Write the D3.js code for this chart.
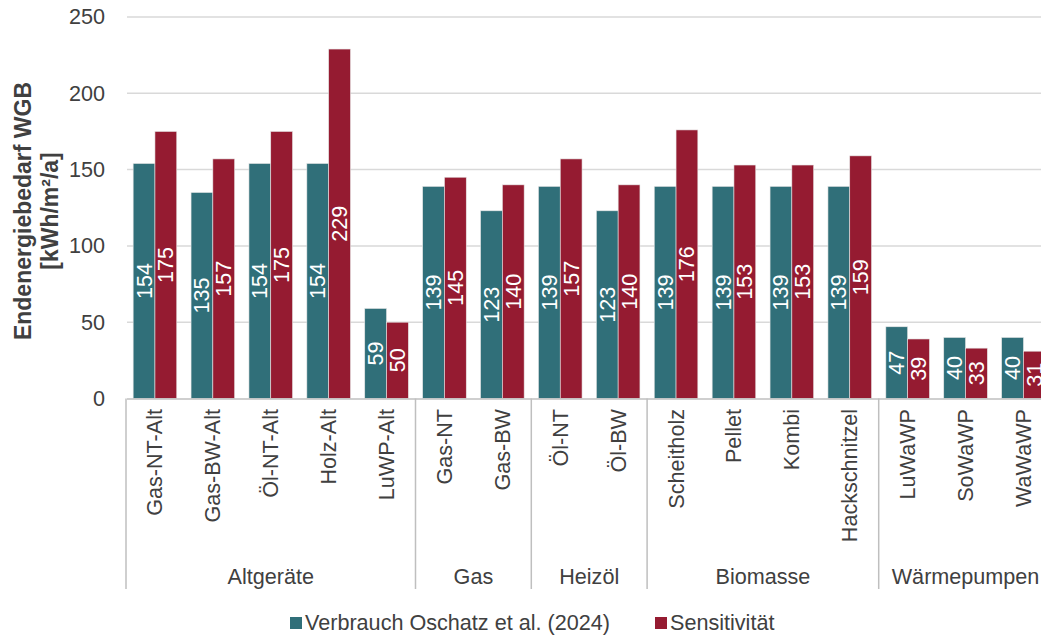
<!DOCTYPE html>
<html>
<head>
<meta charset="utf-8">
<script src="https://cdn.jsdelivr.net/npm/d3@7"></script>
<style>
  body { margin: 0; background: #fff; }
  svg text { font-family: "Liberation Sans", Arial, sans-serif; }
</style>
</head>
<body>
<div id="container"></div>
<script>
// categories, in the order they appear on the x axis
var categories = ["Gas-NT-Alt", "Gas-BW-Alt", "Öl-NT-Alt", "Holz-Alt", "LuWP-Alt",
  "Gas-NT", "Gas-BW", "Öl-NT", "Öl-BW",
  "Scheitholz", "Pellet", "Kombi", "Hackschnitzel",
  "LuWaWP", "SoWaWP", "WaWaWP"];

// the outer level of the category axis
var groupNames = ["Altgeräte", "Gas", "Heizöl", "Biomasse", "Wärmepumpen"];
var groupSizes = [5, 2, 2, 4, 3];

var seriesNames = ["Verbrauch Oschatz et al. (2024)", "Sensitivität"];
var verbrauch = [154, 135, 154, 154, 59, 139, 123, 139, 123, 139, 139, 139, 139, 47, 40, 40];
var sensitivitaet = [175, 157, 175, 229, 50, 145, 140, 157, 140, 176, 153, 153, 159, 39, 33, 31];

var yTicks = [0, 50, 100, 150, 200, 250];

var colors = ["#306f79", "#951b31"];
var textColor = "#404040";
var fontSize = 21.6;

var width = 1041, height = 637;

var svg = d3.select("#container").append("svg")
  .attr("width", width)
  .attr("height", height);

var x = d3.scaleBand()
  .domain(categories)
  .range([126, 126 + 16 * 57.9])
  .paddingInner(0.247)
  .paddingOuter(0.1235);

var xSeries = d3.scaleBand()
  .domain([0, 1])
  .range([0, x.bandwidth()]);

var y = d3.scaleLinear().domain([0, 250]).range([398.5, 17]);

// gridlines
svg.append("g")
  .selectAll("line")
  .data(yTicks.slice(1))
  .enter()
  .append("line")
  .attr("x1", 127)
  .attr("x2", width)
  .attr("y1", (d) => y(d))
  .attr("y2", (d) => y(d))
  .attr("stroke", "#d9d9d9")
  .attr("stroke-width", 1.5);

// y axis labels only
var yAxis = d3.axisLeft(y).tickValues(yTicks).tickSize(0).tickPadding(0);
var yAxisG = svg.append("g")
  .attr("transform", "translate(105,0)")
  .call(yAxis);
yAxisG.select(".domain").remove();
yAxisG.selectAll("text")
  .attr("font-size", fontSize)
  .attr("fill", textColor);

// y axis title
var title = svg.append("text")
  .attr("transform", "translate(33,211) rotate(-90)")
  .attr("text-anchor", "middle")
  .attr("font-size", 23)
  .attr("font-weight", "bold")
  .attr("fill", textColor);
title.append("tspan").attr("x", 0).attr("dy", "-0.1em").text("Endenergiebedarf WGB");
title.append("tspan").attr("x", 0).attr("dy", "1.2em").text("[kWh/m²/a]");

// bars
var rows = categories.map(function (c, i) {
  return { cat: c, values: [verbrauch[i], sensitivitaet[i]] };
});

var groupG = svg.append("g")
  .selectAll("g")
  .data(rows)
  .enter()
  .append("g")
  .attr("transform", (d) => "translate(" + x(d.cat) + ",0)");

groupG.selectAll("rect")
  .data((d) => d.values)
  .enter()
  .append("rect")
  .attr("x", (d, i) => xSeries(i))
  .attr("y", (d) => y(d))
  .attr("width", xSeries.bandwidth())
  .attr("height", (d) => y(0) - y(d))
  .attr("fill", (d, i) => colors[i])
  .attr("stroke", "#e6e6e6")
  .attr("stroke-width", 0.6);

groupG.selectAll("text")
  .data((d) => d.values)
  .enter()
  .append("text")
  .attr("transform", function (d, i) {
    var cx = xSeries(i) + xSeries.bandwidth() / 2;
    var cy = (y(d) + y(0)) / 2;
    return "translate(" + cx + "," + cy + ") rotate(-90)";
  })
  .attr("text-anchor", "middle")
  .attr("dominant-baseline", "central")
  .attr("font-size", fontSize)
  .attr("fill", "#fff")
  .text((d) => d3.format(".0f")(d));

// category axis line
svg.append("line")
  .attr("x1", 127)
  .attr("x2", x.range()[1])
  .attr("y1", y(0) + 0.5)
  .attr("y2", y(0) + 0.5)
  .attr("stroke", "#bfbfbf")
  .attr("stroke-width", 1.5);

// inner category labels
svg.append("g")
  .selectAll("text")
  .data(categories)
  .enter()
  .append("text")
  .attr("transform", (d) => "translate(" + (x(d) + x.bandwidth() / 2) + ",409) rotate(-90)")
  .attr("text-anchor", "end")
  .attr("dominant-baseline", "central")
  .attr("font-size", fontSize)
  .attr("fill", textColor)
  .text((d) => d);

// outer groups with separators
var groups = [];
var start = 0;
groupNames.forEach(function (g, i) {
  groups.push({ name: g, first: categories[start], last: categories[start + groupSizes[i] - 1] });
  start += groupSizes[i];
});

var step = x.step();
var sepX = groups.map((g) => x(g.first) - x.paddingInner() * step / 2);
sepX.push(x(groups[groups.length - 1].last) + x.bandwidth() + x.paddingInner() * step / 2);

svg.append("g")
  .selectAll("line")
  .data(sepX)
  .enter()
  .append("line")
  .attr("x1", (d) => d)
  .attr("x2", (d) => d)
  .attr("y1", y(0))
  .attr("y2", 589)
  .attr("stroke", "#bfbfbf")
  .attr("stroke-width", 1.5);

svg.append("g")
  .selectAll("text")
  .data(groups)
  .enter()
  .append("text")
  .attr("x", (d, i) => (sepX[i] + sepX[i + 1]) / 2)
  .attr("y", 584)
  .attr("text-anchor", "middle")
  .attr("font-size", fontSize)
  .attr("fill", textColor)
  .text((d) => d.name);

// legend
var legendX = [290, 655];
var legend = svg.append("g")
  .selectAll("g")
  .data(seriesNames)
  .enter()
  .append("g")
  .attr("transform", (d, i) => "translate(" + legendX[i] + ",0)");

legend.append("rect")
  .attr("x", 0)
  .attr("y", 617)
  .attr("width", 12)
  .attr("height", 12)
  .attr("fill", (d, i) => colors[i]);

legend.append("text")
  .attr("x", 15)
  .attr("y", 630)
  .attr("font-size", fontSize)
  .attr("fill", textColor)
  .text((d) => d);
</script>
</body>
</html>
